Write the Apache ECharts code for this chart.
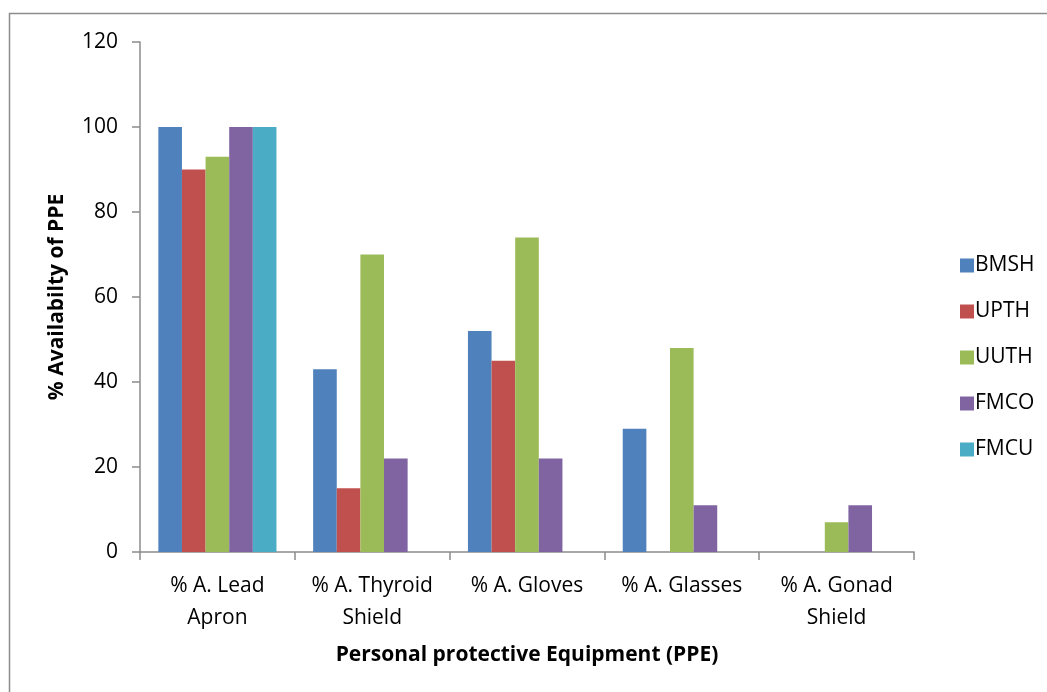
<!DOCTYPE html>
<html>
<head>
<meta charset="utf-8">
<script src="https://cdn.jsdelivr.net/npm/echarts@6/dist/echarts.min.js"></script>
<style>
  html, body { margin: 0; padding: 0; background: #fff; }
  #chart { width: 1047px; height: 692px; }
</style>
</head>
<body>
<div id="chart"></div>
<script>
// PPE availability (%) by hospital
const categories = ['% A. Lead\nApron', '% A. Thyroid\nShield', '% A. Gloves', '% A. Glasses', '% A. Gonad\nShield'];
const BMSH = [100, 43, 52, 29, 0];
const UPTH = [90, 15, 45, 0, 0];
const UUTH = [93, 70, 74, 48, 7];
const FMCO = [100, 22, 22, 11, 11];
const FMCU = [100, 0, 0, 0, 0];
const yTicks = { min: 0, max: 120, interval: 20 };

const seriesDefs = [
  ['BMSH', BMSH, '#4F81BD'],
  ['UPTH', UPTH, '#C0504D'],
  ['UUTH', UUTH, '#9BBB59'],
  ['FMCO', FMCO, '#8064A2'],
  ['FMCU', FMCU, '#4BACC6']
];

const FONT = 'Open Sans';
const chart = echarts.init(document.getElementById('chart'), null, { renderer: 'canvas' });

chart.setOption({
  backgroundColor: '#ffffff',
  animation: false,
  textStyle: { fontFamily: FONT },
  graphic: [{
    type: 'rect',
    shape: { x: 9.5, y: 13.5, width: 1100, height: 800 },
    style: { fill: 'none', stroke: '#8c8c8c', lineWidth: 1.5 },
    silent: true,
    z: -1
  }],
  grid: { left: 140, top: 42, right: 133, bottom: 140 },
  legend: {
    orient: 'vertical',
    left: 955,
    top: 250,
    itemWidth: 14,
    itemHeight: 14,
    itemGap: 25,
    icon: 'rect',
    textStyle: { fontFamily: FONT, fontSize: 21, color: '#000', padding: [0, 0, 0, -4] },
    data: seriesDefs.map(d => d[0])
  },
  xAxis: {
    type: 'category',
    data: categories,
    name: 'Personal protective Equipment (PPE)',
    nameLocation: 'middle',
    nameGap: 93,
    nameTextStyle: { fontFamily: FONT, fontSize: 21, fontWeight: 'bold', color: '#000' },
    axisLine: { lineStyle: { color: '#8c8c8c', width: 1.5 } },
    axisTick: { show: true, length: 8, alignWithLabel: false, lineStyle: { color: '#8c8c8c', width: 1.5 } },
    axisLabel: {
      interval: 0,
      margin: 18,
      fontFamily: FONT,
      fontSize: 21,
      color: '#000',
      lineHeight: 32,
      verticalAlign: 'top'
    },
    splitLine: { show: false }
  },
  yAxis: {
    type: 'value',
    min: yTicks.min,
    max: yTicks.max,
    interval: yTicks.interval,
    name: '% Availabilty of PPE',
    nameLocation: 'middle',
    nameGap: 72,
    nameRotate: 90,
    nameTextStyle: { fontFamily: FONT, fontSize: 21, fontWeight: 'bold', color: '#000' },
    axisLine: { show: true, lineStyle: { color: '#8c8c8c', width: 1.5 } },
    axisTick: { show: true, length: 8, lineStyle: { color: '#8c8c8c', width: 1.5 } },
    axisLabel: { margin: 22, fontFamily: FONT, fontSize: 21, color: '#000' },
    splitLine: { show: false }
  },
  series: seriesDefs.map(([name, values, color]) => ({
    name,
    type: 'bar',
    data: values,
    barGap: '0%',
    barCategoryGap: '23.7%',
    itemStyle: { color }
  }))
});
</script>
</body>
</html>
